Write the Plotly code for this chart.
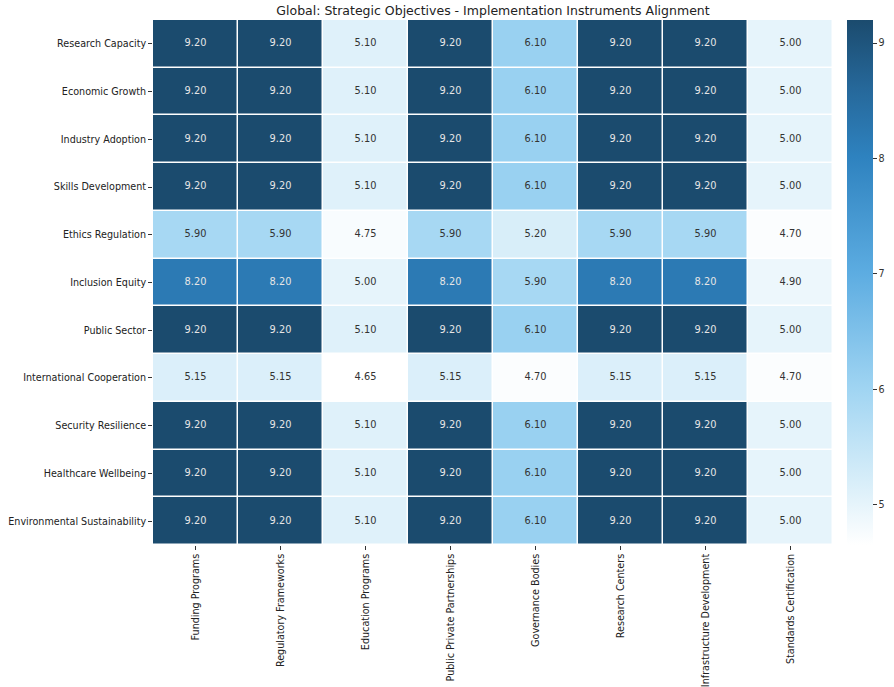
import plotly.graph_objects as go

objectives = ["Research Capacity", "Economic Growth", "Industry Adoption", "Skills Development",
              "Ethics Regulation", "Inclusion Equity", "Public Sector", "International Cooperation",
              "Security Resilience", "Healthcare Wellbeing", "Environmental Sustainability"]
instruments = ["Funding Programs", "Regulatory Frameworks", "Education Programs",
               "Public Private Partnerships", "Governance Bodies", "Research Centers",
               "Infrastructure Development", "Standards Certification"]

research_capacity = [9.2, 9.2, 5.1, 9.2, 6.1, 9.2, 9.2, 5.0]
economic_growth = [9.2, 9.2, 5.1, 9.2, 6.1, 9.2, 9.2, 5.0]
industry_adoption = [9.2, 9.2, 5.1, 9.2, 6.1, 9.2, 9.2, 5.0]
skills_development = [9.2, 9.2, 5.1, 9.2, 6.1, 9.2, 9.2, 5.0]
ethics_regulation = [5.9, 5.9, 4.75, 5.9, 5.2, 5.9, 5.9, 4.7]
inclusion_equity = [8.2, 8.2, 5.0, 8.2, 5.9, 8.2, 8.2, 4.9]
public_sector = [9.2, 9.2, 5.1, 9.2, 6.1, 9.2, 9.2, 5.0]
international_cooperation = [5.15, 5.15, 4.65, 5.15, 4.7, 5.15, 5.15, 4.7]
security_resilience = [9.2, 9.2, 5.1, 9.2, 6.1, 9.2, 9.2, 5.0]
healthcare_wellbeing = [9.2, 9.2, 5.1, 9.2, 6.1, 9.2, 9.2, 5.0]
environmental_sustainability = [9.2, 9.2, 5.1, 9.2, 6.1, 9.2, 9.2, 5.0]

z = [research_capacity, economic_growth, industry_adoption, skills_development,
     ethics_regulation, inclusion_equity, public_sector, international_cooperation,
     security_resilience, healthcare_wellbeing, environmental_sustainability]

zmin = min(min(r) for r in z)
zmax = max(max(r) for r in z)

colorscale = [[0.0, "#ffffff"], [0.12, "#d8eef9"], [0.3, "#9fd4f2"], [0.52, "#5cace1"],
              [0.74, "#2e82bf"], [0.87, "#26689a"], [1.0, "#1b4b6e"]]

fig = go.Figure()
fig.add_trace(go.Heatmap(
    z=z, x=instruments, y=objectives, zmin=zmin, zmax=zmax,
    colorscale=colorscale, xgap=1.5, ygap=1.5, hoverinfo="skip",
    colorbar=dict(thickness=26, len=1, lenmode="fraction", x=1.021, xanchor="left",
                  xpad=0, ypad=0,
                  y=0.5, yanchor="middle", outlinewidth=0, ticks="outside", ticklen=4,
                  tickcolor="#333", tickvals=[5, 6, 7, 8, 9],
                  tickfont=dict(family="DejaVu Sans", size=9.6, color="#333")),
))

thr = (zmin + zmax) / 2 + 0.6
for dark in (True, False):
    xs, ys, ts = [], [], []
    for i, row in enumerate(z):
        for j, v in enumerate(row):
            if (v > thr) == dark:
                xs.append(instruments[j]); ys.append(objectives[i]); ts.append(f"{v:.2f}")
    fig.add_trace(go.Scatter(x=xs, y=ys, text=ts, mode="text", hoverinfo="skip",
                             showlegend=False, cliponaxis=False,
                             textfont=dict(family="DejaVu Sans", size=9.8,
                                           color="#e6e6e6" if dark else "#333333")))

fig.update_layout(
    width=894, height=687,
    margin=dict(l=153, r=61, t=20, b=142, autoexpand=False),
    paper_bgcolor="white", plot_bgcolor="white",
    title=dict(text="Global: Strategic Objectives - Implementation Instruments Alignment",
               x=(153 + 833) / 2 / 894, xanchor="center", y=1 - 11 / 687, yanchor="middle",
               font=dict(family="DejaVu Sans", size=12.5, color="#222")),
    font=dict(family="DejaVu Sans", size=9.6, color="#222"),
    showlegend=False,
)
fig.update_xaxes(type="category", range=[-0.5, len(instruments) - 0.5], autorange=False,
                 automargin=False,
                 tickangle=-90, ticks="outside", ticklen=4, tickcolor="#333",
                 showgrid=False, zeroline=False, showline=False,
                 tickfont=dict(family="DejaVu Sans", size=9.6, color="#222"))
fig.update_yaxes(type="category", range=[len(objectives) - 0.5, -0.5], autorange=False,
                 automargin=False,
                 ticks="outside", ticklen=4,
                 tickcolor="#333", showgrid=False, zeroline=False, showline=False,
                 tickfont=dict(family="DejaVu Sans", size=9.6, color="#222"))

fig.write_html("out.html", config={"displayModeBar": False},
               post_script="document.body.style.margin='0';document.body.style.overflow='hidden';")
